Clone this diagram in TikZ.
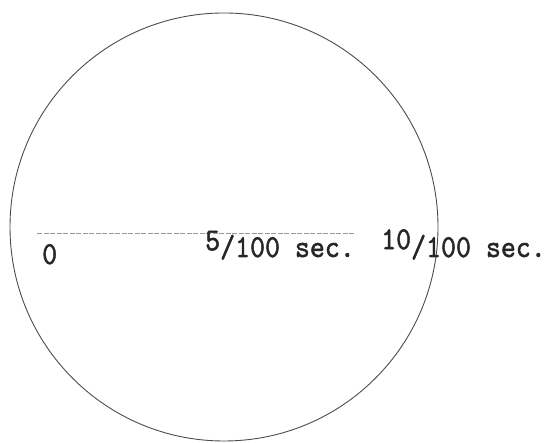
\documentclass[tikz,border=0pt]{standalone}
\usepackage{graphicx}
\usepackage{fontspec}
\setmonofont{lmmono10-regular.otf}[FakeBold=1.6]
\newcommand\talltext[1]{\scalebox{1}[1.12]{#1}}
\begin{document}
\begin{tikzpicture}[x=1pt,y=1pt,
  dial/.style={circle, draw=black!70, line width=0.9pt, minimum size=428pt, inner sep=0pt},
  tick/.style={draw=black!40, line width=0.7pt, dash pattern=on 5pt off 1.5pt},
  lbl/.style={anchor=base west, inner sep=0pt, text=black!85, font=\ttfamily\fontsize{28.5}{28.5}\selectfont}]
\useasboundingbox (0,0) rectangle (553,443);
\node[dial] (dial) at (224,216) {};
\coordinate (ls) at (37,210);
\coordinate (le) at (355,210);
\draw[tick] (ls) -- (le);
\node[lbl] (zero) at (42,179) {\talltext{0}};
\node[lbl] (five) at (205,186) {\talltext{\raisebox{6pt}{5}/100 sec.}};
\node[lbl] (ten) at (381,186) {\talltext{\raisebox{7pt}{10}/100 sec.}};
\end{tikzpicture}
\end{document}
